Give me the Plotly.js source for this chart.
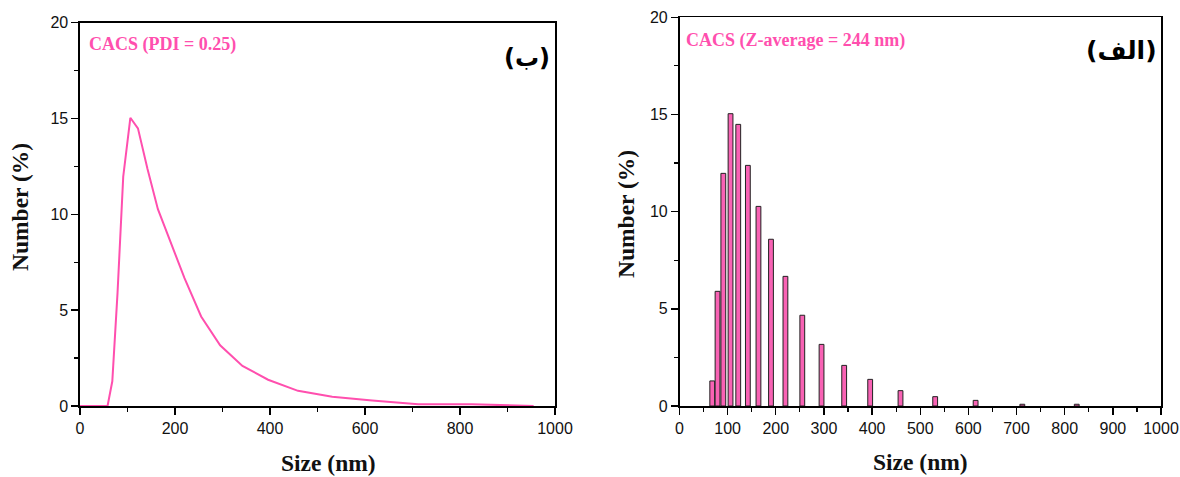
<!DOCTYPE html>
<html>
<head>
<meta charset="utf-8">
<script src="https://cdn.plot.ly/plotly-3.0.1.min.js"></script>
<style>html,body{margin:0;padding:0;background:#fff;}#chart{width:1180px;height:477px;}</style>
</head>
<body>
<div id="chart"></div>
<script>
// Size distribution by number (DLS)
const sizes   = [68, 79, 91, 106, 122, 142, 164, 190, 220, 255, 295, 342, 396, 459, 531, 615, 712, 825];
const numbers = [1.29, 5.9, 11.97, 15.04, 14.49, 12.38, 10.27, 8.58, 6.67, 4.67, 3.17, 2.09, 1.37, 0.79, 0.48, 0.29, 0.09, 0.09];

// Line version (left panel) includes the empty bins around the peak
const curveSizes   = [0, 58, 68, 79, 91, 106, 122, 142, 164, 190, 220, 255, 295, 342, 396, 459, 531, 615, 712, 825, 955];
const curveNumbers = [0, 0, 1.29, 5.9, 11.97, 15.04, 14.49, 12.38, 10.27, 8.58, 6.67, 4.67, 3.17, 2.09, 1.37, 0.79, 0.48, 0.29, 0.09, 0.09, 0];

const leftXTicks  = [0, 200, 400, 600, 800, 1000];
const rightXTicks = [0, 100, 200, 300, 400, 500, 600, 700, 800, 900, 1000];
const yTicks = [0, 5, 10, 15, 20];

const pink = '#FF4FAE';
const W = 1180, H = 477;
const px = v => v / W, py = v => 1 - v / H;

const tickFont = {family: 'Liberation Sans, Arial, sans-serif', size: 16, color: '#111'};
const titleFont = {family: 'Liberation Serif, Times New Roman, serif', size: 23.5, color: '#111'};
const annFont = {family: 'Liberation Serif, Times New Roman, serif', size: 18, color: pink};

function axisBase(extra) {
  return Object.assign({
    showgrid: false, zeroline: false, showline: true, mirror: true,
    linecolor: '#000', linewidth: 1.6,
    ticks: 'outside', ticklen: 7, tickwidth: 1.4, tickcolor: '#000',
    tickfont: tickFont, fixedrange: true
  }, extra);
}

const traces = [
  {
    x: curveSizes, y: curveNumbers, type: 'scatter', mode: 'lines',
    line: {color: pink, width: 2}, xaxis: 'x', yaxis: 'y', hoverinfo: 'skip'
  },
  {
    x: sizes, y: numbers, type: 'bar', width: 10,
    marker: {color: '#F862B4', line: {color: '#222', width: 1}},
    xaxis: 'x2', yaxis: 'y2', hoverinfo: 'skip'
  }
];

const layout = {
  width: W, height: H,
  margin: {l: 0, r: 0, t: 0, b: 0},
  paper_bgcolor: '#fff', plot_bgcolor: '#fff',
  showlegend: false,
  xaxis: axisBase({
    domain: [px(80), px(555)], range: [0, 1000], tickvals: leftXTicks,
    anchor: 'y', minor: {dtick: 100, tick0: 0, ticklen: 4, tickwidth: 1.2, tickcolor: '#000', ticks: 'outside'}
  }),
  yaxis: axisBase({
    domain: [py(406), py(22.7)], range: [0, 20], tickvals: yTicks,
    anchor: 'x', minor: {dtick: 2.5, tick0: 0, ticklen: 4, tickwidth: 1.2, tickcolor: '#000', ticks: 'outside'}
  }),
  xaxis2: axisBase({
    domain: [px(679.5), px(1161)], range: [0, 1000], tickvals: rightXTicks,
    anchor: 'y2', minor: {dtick: 50, tick0: 0, ticklen: 4, tickwidth: 1.2, tickcolor: '#000', ticks: 'outside'}
  }),
  yaxis2: axisBase({
    domain: [py(406), py(17.3)], range: [0, 20], tickvals: yTicks,
    anchor: 'x2', minor: {dtick: 2.5, tick0: 0, ticklen: 4, tickwidth: 1.2, tickcolor: '#000', ticks: 'outside'}
  }),
  bargap: 0,
  annotations: [
    {text: '<b>Size (nm)</b>', xref: 'paper', yref: 'paper', x: px(328), y: py(463), showarrow: false, font: titleFont, xanchor: 'center', yanchor: 'middle'},
    {text: '<b>Size (nm)</b>', xref: 'paper', yref: 'paper', x: px(920), y: py(462), showarrow: false, font: titleFont, xanchor: 'center', yanchor: 'middle'},
    {text: '<b>Number (%)</b>', xref: 'paper', yref: 'paper', x: px(20), y: py(207), showarrow: false, font: titleFont, textangle: -90, xanchor: 'center', yanchor: 'middle'},
    {text: '<b>Number (%)</b>', xref: 'paper', yref: 'paper', x: px(626), y: py(214), showarrow: false, font: titleFont, textangle: -90, xanchor: 'center', yanchor: 'middle'},
    {text: '<b>CACS (PDI = 0.25)</b>', xref: 'paper', yref: 'paper', x: px(87), y: py(45), showarrow: false, font: annFont, xanchor: 'left', yanchor: 'middle'},
    {text: '<b>CACS (Z-average = 244 nm)</b>', xref: 'paper', yref: 'paper', x: px(684), y: py(40), showarrow: false, font: annFont, xanchor: 'left', yanchor: 'middle'},
    {text: '<b>(ب)</b>', xref: 'paper', yref: 'paper', x: px(527), y: py(58), showarrow: false, font: {family: 'DejaVu Sans, Noto Sans, sans-serif', size: 24, color: '#000'}, xanchor: 'center', yanchor: 'middle'},
    {text: '<b>(الف)</b>', xref: 'paper', yref: 'paper', x: px(1121), y: py(51), showarrow: false, font: {family: 'DejaVu Sans, Noto Sans, sans-serif', size: 25, color: '#000'}, xanchor: 'center', yanchor: 'middle'}
  ]
};

Plotly.newPlot('chart', traces, layout, {staticPlot: true, displayModeBar: false});
</script>
</body>
</html>
